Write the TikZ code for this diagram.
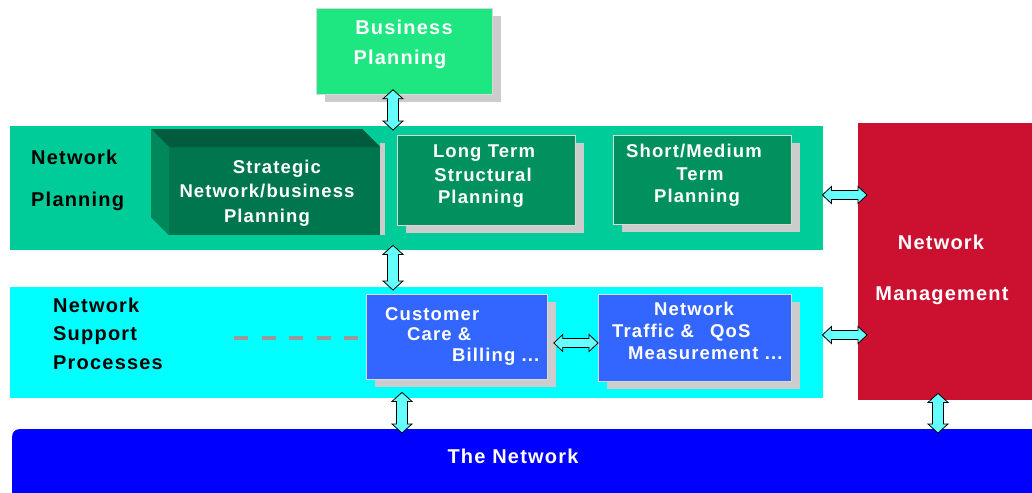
\documentclass[tikz,border=0pt]{standalone}
\usepackage{fontspec}
\setmainfont{Liberation Sans}[LetterSpace=6]
\usetikzlibrary{calc,shadows}
\definecolor{bpgreen}{RGB}{30,230,128}
\definecolor{npband}{RGB}{0,204,153}
\definecolor{ltgreen}{RGB}{0,145,95}
\definecolor{stfront}{RGB}{0,118,78}
\definecolor{sttop}{RGB}{0,92,60}
\definecolor{stleft}{RGB}{0,135,90}
\definecolor{shgray}{RGB}{204,204,204}
\definecolor{nscyan}{RGB}{0,255,255}
\definecolor{ccblue}{RGB}{51,102,255}
\definecolor{nmred}{RGB}{204,16,48}
\definecolor{netblue}{RGB}{0,0,255}
\definecolor{arrcyan}{RGB}{102,255,255}
\definecolor{dashgray}{RGB}{153,153,153}
\newcommand\varrowbetween[2]{\filldraw[blockarrow] let \p1=(#1), \p2=(#2) in
 (\x1,\y1) -- (\x1+10pt,\y1-9pt) -- (\x1+5.5pt,\y1-9pt) -- (\x1+5.5pt,\y2+9pt) -- (\x1+10pt,\y2+9pt) -- (\x1,\y2)
 -- (\x1-10pt,\y2+9pt) -- (\x1-5.5pt,\y2+9pt) -- (\x1-5.5pt,\y1-9pt) -- (\x1-10pt,\y1-9pt) -- cycle;}
\newcommand\harrowbetween[2]{\filldraw[blockarrow] let \p1=(#1), \p2=(#2) in
 (\x1,\y1) -- (\x1+9pt,\y1+8.5pt) -- (\x1+9pt,\y1+4.5pt) -- (\x2-9pt,\y1+4.5pt) -- (\x2-9pt,\y1+8.5pt) -- (\x2,\y1)
 -- (\x2-9pt,\y1-8.5pt) -- (\x2-9pt,\y1-4.5pt) -- (\x1+9pt,\y1-4.5pt) -- (\x1+9pt,\y1-8.5pt) -- cycle;}
\begin{document}
\begin{tikzpicture}[x=1pt,y=-1pt,
  band/.style={anchor=north west, inner sep=0, draw=none},
  box/.style={anchor=north west, inner sep=0, draw=white!85!black, line width=0.8pt},
  shadowed/.style={general shadow={fill=shgray, shadow xshift=9pt, shadow yshift=-8pt}},
  lbl/.style={inner sep=0, font=\bfseries\fontsize{18.5}{22}\selectfont, text=white},
  biglbl/.style={inner sep=0, font=\bfseries\fontsize{20}{24}\selectfont},
  blockarrow/.style={fill=arrcyan, draw=black, line width=0.8pt, line join=miter}]
\useasboundingbox (0,0) rectangle (1032,492);
\fill[white] (0,0) rectangle (1032,492);

% bands
\node[band, fill=npband, minimum width=813, minimum height=124] (np) at (10,126) {};
\node[band, fill=nscyan, minimum width=813, minimum height=111] (ns) at (10,287) {};
\node[band, fill=nmred, minimum width=182, minimum height=277] (nm) at (858,123) {};
\node[band, fill=netblue, rounded corners=7pt, minimum width=1030, minimum height=75] (net) at (12,429) {};

% business planning
\node[box, shadowed, fill=bpgreen, minimum width=176, minimum height=86] (bp) at (316,8) {};

% strategic 3D box
\node[band, fill=stfront, minimum width=211, minimum height=88] (st) at (169,147) {};
\fill[shgray] ($(st.north east)+(0,-4)$) rectangle ($(st.south east)+(5,0)$);
\fill[stleft] (st.north west) -- (st.south west) -- ($(st.south west)+(-18,-18)$) -- ($(st.north west)+(-18,-18)$) -- cycle;
\fill[sttop] (st.north west) -- ($(st.north west)+(-18,-18)$) -- ($(st.north east)+(-18,-18)$) -- (st.north east) -- cycle;

% long term / short-medium
\node[box, shadowed, fill=ltgreen, minimum width=178, minimum height=90] (lt) at (397,135) {};
\node[box, shadowed, fill=ltgreen, minimum width=178, minimum height=89] (sm) at (613,135) {};

% support boxes
\node[box, shadowed, fill=ccblue, minimum width=181, minimum height=85] (cc) at (366,294) {};
\node[box, shadowed, fill=ccblue, minimum width=193, minimum height=87] (nt) at (598,294) {};

% dashed line
\coordinate (dstart) at (234,338);
\draw[dashgray, line width=4.5pt, dash pattern=on 14pt off 13.5pt] (dstart) -- ($(cc.west |- dstart)+(-8,0)$);

% texts
\node[biglbl, text=white, anchor=base] (bpt1) at (404,35) {Business};
\node[biglbl, text=white, anchor=base] (bpt2) at (400,65) {Planning};
\node[biglbl, anchor=base west] (npt1) at (31,164) {Network};
\node[biglbl, anchor=base west] (npt2) at (31,206) {Planning};
\node[lbl, anchor=base] (stt1) at (277,173) {Strategic};
\node[lbl, anchor=base] (stt2) at (267,197) {Network/business};
\node[lbl, anchor=base] (stt3) at (267,222) {Planning};
\node[lbl, anchor=base] (ltt1) at (484,157) {Long Term};
\node[lbl, anchor=base] (ltt2) at (483,181) {Structural};
\node[lbl, anchor=base] (ltt3) at (481,203) {Planning};
\node[lbl, anchor=base] (smt1) at (694,157) {Short/Medium};
\node[lbl, anchor=base] (smt2) at (700,180) {Term};
\node[lbl, anchor=base] (smt3) at (697,202) {Planning};
\node[biglbl, text=white, anchor=base] (nmt1) at (941,249) {Network};
\node[biglbl, text=white, anchor=base] (nmt2) at (942,300) {Management};
\node[biglbl, anchor=base west] (nst1) at (53,312) {Network};
\node[biglbl, anchor=base west] (nst2) at (53,340) {Support};
\node[biglbl, anchor=base west] (nst3) at (53,369) {Processes};
\node[lbl, anchor=base west] (cct1) at (385,320) {Customer};
\node[lbl, anchor=base west] (cct2) at (407,340) {Care \&};
\node[lbl, anchor=base west] (cct3) at (452,361) {Billing ...};
\node[lbl, anchor=base west] (ntt1) at (654,315) {Network};
\node[lbl, anchor=base west] (ntt2) at (612,337) {Traffic \&};
\node[lbl, anchor=base west] (ntt3) at (710,337) {QoS};
\node[lbl, anchor=base west] (ntt4) at (628,359) {Measurement ...};
\node[biglbl, text=white, anchor=base] (nett) at (513,463) {The Network};

% block arrows
\coordinate (ax1) at (393,0);
\coordinate (ax2) at (402,0);
\coordinate (ax3) at (938,0);
\coordinate (ay1) at (0,195);
\coordinate (ay2) at (0,335);
\coordinate (ay3) at (0,343);
\varrowbetween{$(ax1 |- bp.south)+(0,-5)$}{$(ax1 |- np.north)+(0,4)$}
\varrowbetween{$(ax1 |- np.south)+(0,-5)$}{$(ax1 |- ns.north)+(0,3)$}
\varrowbetween{$(ax2 |- ns.south)+(0,-6)$}{$(ax2 |- net.north)+(0,4)$}
\varrowbetween{$(ax3 |- nm.south)+(0,-7)$}{$(ax3 |- net.north)+(0,4)$}
\harrowbetween{$(np.east |- ay1)+(-1,0)$}{$(nm.west |- ay1)+(9,0)$}
\harrowbetween{$(ns.east |- ay2)+(-1,0)$}{$(nm.west |- ay2)+(9,0)$}
\harrowbetween{$(cc.east |- ay3)+(6,0)$}{$(nt.west |- ay3)$}
\end{tikzpicture}
\end{document}
